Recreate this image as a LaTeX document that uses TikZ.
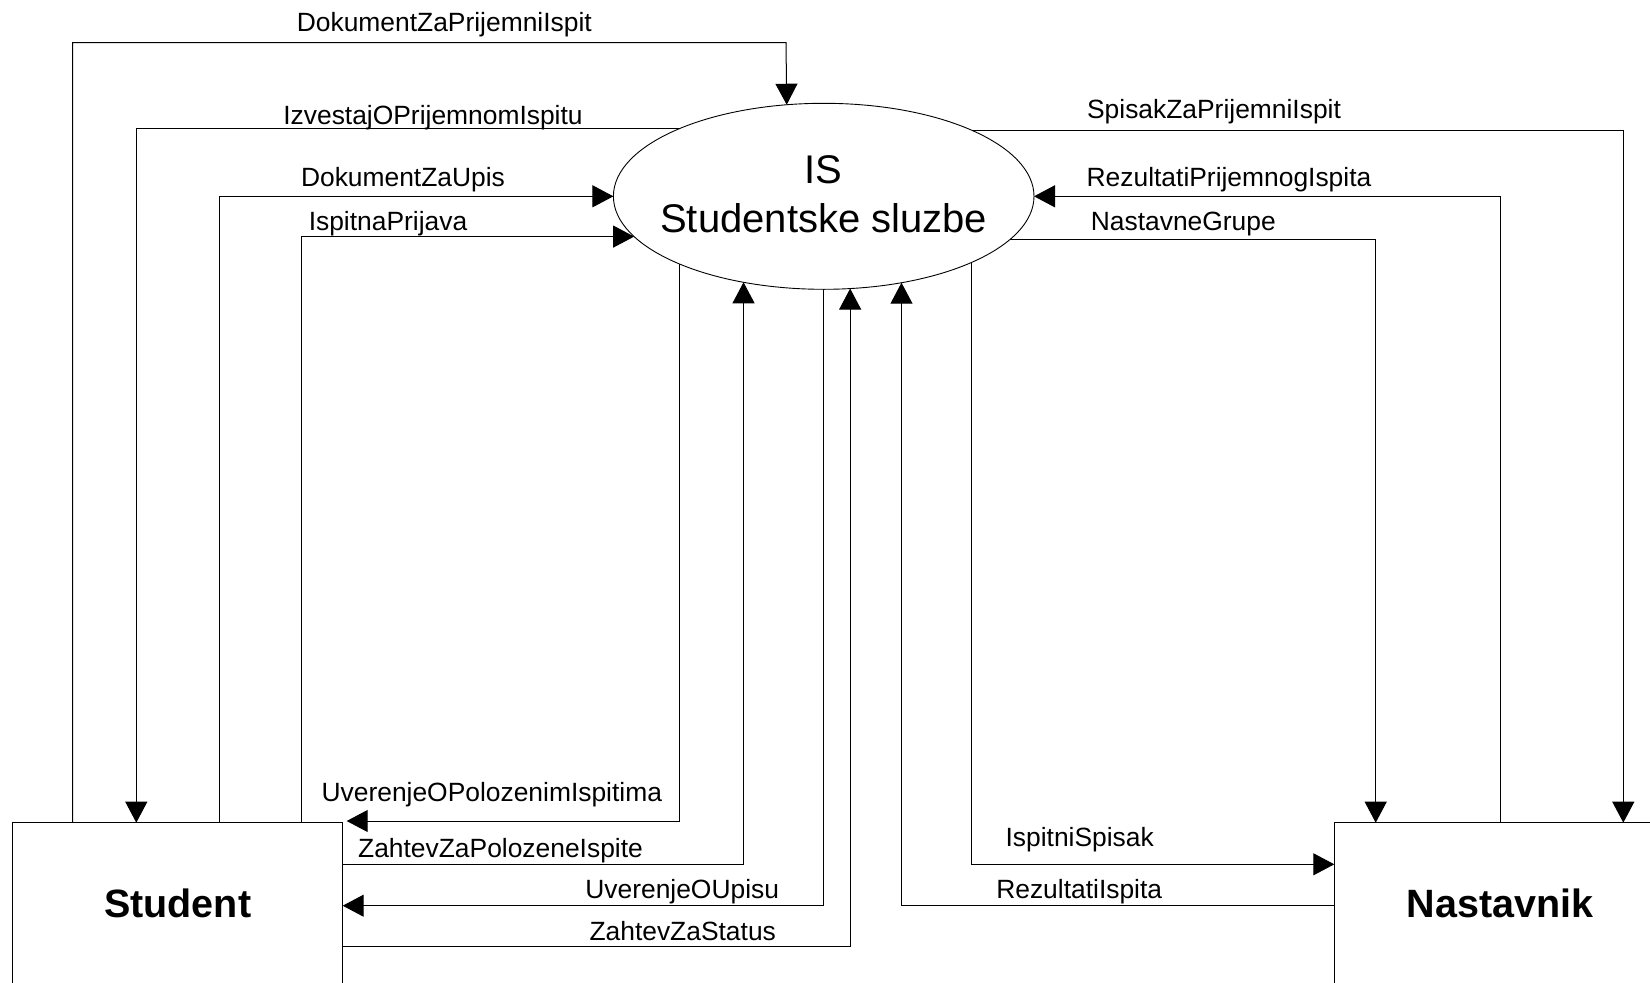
\documentclass[tikz,border=0pt]{standalone}
\usepackage{fontspec}
\setmainfont{Liberation Sans}
\usetikzlibrary{arrows.meta,shapes.geometric}
\begin{document}
\begin{tikzpicture}[x=1pt,y=-1pt,
  conn/.style={line width=1pt},
  arr/.style={conn,-{Triangle[length=21pt,width=22pt]}},
  lbl/.style={font=\fontsize{26.4}{31}\selectfont, anchor=base, inner sep=0},
  box/.style={draw, line width=1pt, rectangle, inner sep=0, outer sep=0,
    minimum height=167.3pt, font=\fontsize{39.5}{47}\selectfont\bfseries,
    text height=28.5pt, text depth=7.2pt},
  proc/.style={draw, ellipse, line width=0.9pt, inner sep=0, outer sep=0,
    minimum width=420.6pt, minimum height=186pt},
  title/.style={font=\fontsize{40}{48.7}\selectfont, align=center, inner sep=0}
  ]
\useasboundingbox (0,0) rectangle (1650,983);

% nodes
\node[proc] (is) at (823.7,196.3) {};
\node[title] (istxt) at (823.7,194) {IS\\Studentske sluzbe};
\node[box, minimum width=330pt] (student) at (177.7,906.35) {Student};
\node[box, minimum width=331.4pt] (nast) at (1500,906.35) {Nastavnik};

% Student <-> IS (top)
\draw[arr] ([xshift=60pt]student.north west) |- (786,42.7) -- (is.112.4);
\draw[arr] (is.155.79) -| ([xshift=123.6pt]student.north west);
\draw[arr] ([xshift=207pt]student.north west) |- (is.west);
\draw[arr] ([xshift=289pt]student.north west) |- (is.192.04);

% Student <-> IS (bottom)
\draw[arr] (is.205.09) |- ([xshift=4pt,yshift=1.7pt]student.north east);
\draw[arr] ([yshift=-41.6pt]student.north east) -| (is.227.62);
\draw[arr] (is.south) |- ([yshift=-83pt]student.north east);
\draw[arr] ([yshift=-124pt]student.north east) -| (is.286.49);

% Nastavnik <-> IS
\draw[arr] (is.24.21) -| ([xshift=289pt]nast.north west);
\draw[arr] (nast.north) |- (is.east);
\draw[arr] (is.347.96) -| ([xshift=41.4pt]nast.north west);
\draw[arr] (is.336.03) |- ([yshift=-41.6pt]nast.north west);
\draw[arr] ([yshift=-83pt]nast.north west) -| (is.312.5);

% labels
\node[lbl] (l1) at (444.3,31.7) {DokumentZaPrijemniIspit};
\node[lbl] (l2) at (433,124.5) {IzvestajOPrijemnomIspitu};
\node[lbl] (l3) at (403,186) {DokumentZaUpis};
\node[lbl] (l4) at (388,230) {IspitnaPrijava};
\node[lbl] (l5) at (1214,118.5) {SpisakZaPrijemniIspit};
\node[lbl] (l6) at (1229,186) {RezultatiPrijemnogIspita};
\node[lbl] (l7) at (1183.3,230.7) {NastavneGrupe};
\node[lbl] (l8) at (491.8,801.7) {UverenjeOPolozenimIspitima};
\node[lbl] (l9) at (500.5,857) {ZahtevZaPolozeneIspite};
\node[lbl] (l10) at (682.2,898.3) {UverenjeOUpisu};
\node[lbl] (l11) at (682.7,940.5) {ZahtevZaStatus};
\node[lbl] (l12) at (1079.7,846) {IspitniSpisak};
\node[lbl] (l13) at (1079.2,898.3) {RezultatiIspita};
\end{tikzpicture}
\end{document}
